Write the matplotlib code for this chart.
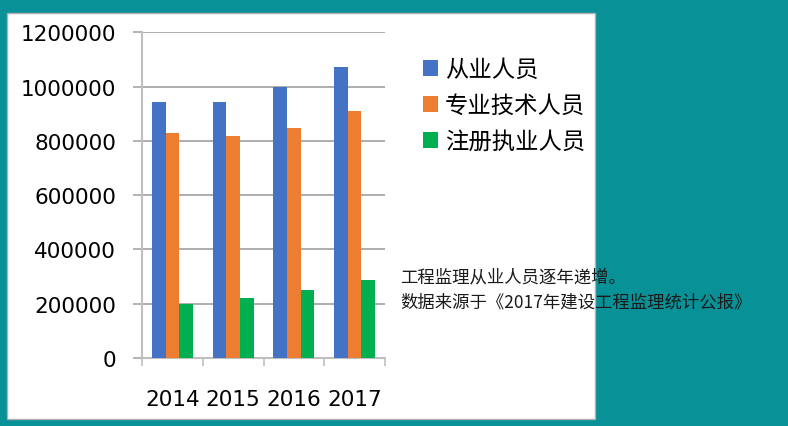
import matplotlib
matplotlib.use('Agg')
import matplotlib.pyplot as plt
import numpy as np
from matplotlib.patches import Rectangle

years = ['2014', '2015', '2016', '2017']
series_names = ['从业人员', '专业技术人员', '注册执业人员']
practitioners = [942000, 944000, 1000000, 1072000]
technical_staff = [831000, 819000, 848000, 912000]
registered_staff = [200000, 222000, 252000, 287000]
yticks = [0, 200000, 400000, 600000, 800000, 1000000, 1200000]
note_lines = ['工程监理从业人员逐年递增。', '数据来源于《2017年建设工程监理统计公报》']

COLORS = ['#4472c4', '#ed7d31', '#00b050']
TEAL = '#089196'
CJK = ['Noto Sans CJK SC', 'DejaVu Sans']

plt.rcParams['font.family'] = ['DejaVu Sans']

W, H = 788, 427
fig = plt.figure(figsize=(W / 100, H / 100), dpi=100)
fig.patch.set_facecolor(TEAL)

# white slide panel
fig.patches.append(Rectangle((7 / W, 7 / H), 588 / W, 406 / H, transform=fig.transFigure,
                             facecolor='white', edgecolor='#b0b0b0', lw=1, zorder=-10))

ax = fig.add_axes([142 / W, (H - 359) / H, (385 - 142) / W, (359 - 33.4) / H])
ax.set_facecolor('none')

x = np.arange(len(years))
width = 0.225
for i, vals in enumerate([practitioners, technical_staff, registered_staff]):
    ax.bar(x + (i - 1) * width, vals, width, color=COLORS[i], label=series_names[i], zorder=3)

ax.set_xlim(-0.5, len(years) - 0.5)
ax.set_ylim(0, 1200000)
ax.set_yticks(yticks)
ax.set_yticklabels([str(v) for v in yticks])
ax.set_xticks(x)
ax.set_xticklabels(years)
ax.set_xticks(np.arange(len(years) + 1) - 0.5, minor=True)

ax.grid(axis='y', color='#a0a0a0', lw=1.2, zorder=0)
for s in ['top', 'right']:
    ax.spines[s].set_visible(False)
for s in ['left', 'bottom']:
    ax.spines[s].set_color('#bfbfbf')
    ax.spines[s].set_linewidth(1.5)

ax.tick_params(axis='y', length=6.5, width=1.2, color='#a6a6a6', pad=12, labelsize=15.5)
ax.tick_params(axis='x', which='major', length=0, pad=22, labelsize=15.5)
ax.tick_params(axis='x', which='minor', length=6, width=1.2, color='#bfbfbf')

leg = fig.legend(loc='center left', bbox_to_anchor=(423 / W, (H - 106.7) / H), frameon=False,
                 prop={'family': CJK, 'size': 16.8}, handlelength=0.64, handleheight=0.64,
                 handletextpad=0.3, labelspacing=0.55, borderpad=0, borderaxespad=0)

fig.text(400 / W, (H - 277) / H, note_lines[0], family=CJK, fontsize=12.5, color='#1a1a1a', va='center')
fig.text(400 / W, (H - 302) / H, note_lines[1], family=CJK, fontsize=12.5, color='#1a1a1a', va='center')

fig.savefig('out.png', dpi=100, facecolor=fig.get_facecolor())
